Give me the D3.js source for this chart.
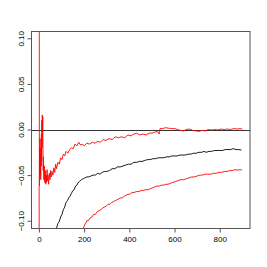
<!DOCTYPE html>
<html>
<head>
<meta charset="utf-8">
<script src="https://cdn.jsdelivr.net/npm/d3@7"></script>
<style>
    body { margin: 0; background: #fff; }
    svg { display: block; }
    text { font-family: "Liberation Sans", Arial, sans-serif; font-size: 8px; fill: #000; }
</style>
</head>
<body>
<div id="chart"></div>
<script>
// upper bound (red), running estimate (black), lower bound (red)
const upper = [[1,0.5],[2,-0.062],[3,-0.02],[4,-0.045],[5,-0.01],[6,-0.05],[7,-0.03],[8,-0.055],[9,-0.02],[10,-0.04],[11,-0.005],[12,-0.035],[13,0.01],[14,-0.02],[15,0.016],[16,0.0],[17,0.014],[18,-0.02],[19,-0.045],[20,-0.03],[22,-0.055],[24,-0.04],[26,-0.058],[28,-0.045],[30,-0.06],[32,-0.05],[34,-0.058],[36,-0.044],[38,-0.056],[40,-0.05],[43,-0.06],[46,-0.048],[49,-0.055],[52,-0.045],[55,-0.052],[58,-0.046],[62,-0.05],[66,-0.042],[70,-0.047],[74,-0.038],[78,-0.043],[84,-0.036],[90,-0.038],[96,-0.031],[102,-0.033],[108,-0.027],[114,-0.029],[120,-0.024],[128,-0.026],[136,-0.022],[144,-0.02],[152,-0.021],[160,-0.016],[168,-0.018],[176,-0.014],[184,-0.017],[192,-0.016],[200,-0.018],[212,-0.015],[224,-0.016],[236,-0.014],[248,-0.015],[260,-0.013],[272,-0.014],[284,-0.011],[296,-0.012],[310,-0.01],[324,-0.011],[338,-0.008],[352,-0.009],[366,-0.008],[380,-0.009],[394,-0.006],[408,-0.007],[420,-0.005],[432,-0.004],[446,-0.006],[460,-0.005],[474,-0.006],[488,-0.004],[500,-0.004],[512,-0.003],[524,-0.002],[532,-0.005],[536,0.001],[548,0.001],[560,0.002],[572,0.0015],[586,0.001],[600,0.001],[614,0.0],[626,-0.001],[640,-0.0015],[652,0.0],[666,0.0005],[680,-0.001],[694,-0.0015],[708,-0.002],[722,-0.001],[736,-0.0015],[750,0.0],[764,-0.0005],[778,0.0],[792,-0.0005],[806,0.0005],[820,0.0],[834,0.0005],[848,0.0],[862,0.001],[876,0.0005],[890,0.001],[900,0.0005]]

const center = [[50,-0.14],[60,-0.125],[70,-0.116],[78,-0.108],[84,-0.103],[90,-0.101],[96,-0.096],[102,-0.093],[108,-0.088],[114,-0.085],[120,-0.08],[126,-0.078],[132,-0.075],[138,-0.073],[144,-0.07],[150,-0.067],[156,-0.066],[162,-0.062],[168,-0.061],[174,-0.058],[180,-0.057],[188,-0.055],[196,-0.054],[204,-0.053],[212,-0.052],[220,-0.052],[230,-0.051],[240,-0.05],[250,-0.05],[260,-0.048],[270,-0.049],[280,-0.047],[290,-0.046],[300,-0.046],[312,-0.045],[324,-0.043],[336,-0.043],[348,-0.041],[360,-0.041],[372,-0.04],[384,-0.039],[396,-0.038],[408,-0.038],[420,-0.036],[432,-0.036],[444,-0.035],[456,-0.035],[468,-0.034],[480,-0.033],[492,-0.033],[504,-0.032],[516,-0.032],[528,-0.031],[540,-0.031],[552,-0.031],[564,-0.03],[576,-0.03],[588,-0.029],[600,-0.029],[612,-0.029],[624,-0.028],[636,-0.028],[648,-0.028],[660,-0.027],[672,-0.027],[684,-0.026],[696,-0.026],[708,-0.025],[720,-0.025],[730,-0.024],[740,-0.025],[752,-0.024],[764,-0.024],[776,-0.023],[788,-0.023],[800,-0.023],[812,-0.023],[824,-0.022],[836,-0.022],[848,-0.022],[860,-0.021],[872,-0.022],[884,-0.022],[896,-0.0225]]

const lower = [[1,-0.062],[2,-0.5],[20,-0.3],[100,-0.2],[150,-0.14],[180,-0.12],[190,-0.113],[196,-0.109],[200,-0.106],[206,-0.103],[212,-0.1],[218,-0.1],[226,-0.097],[234,-0.096],[242,-0.093],[250,-0.093],[258,-0.09],[266,-0.089],[274,-0.088],[282,-0.086],[290,-0.085],[298,-0.084],[306,-0.082],[314,-0.082],[322,-0.08],[330,-0.079],[338,-0.078],[346,-0.077],[354,-0.076],[362,-0.075],[370,-0.075],[378,-0.073],[386,-0.072],[394,-0.071],[402,-0.071],[412,-0.069],[422,-0.069],[432,-0.068],[442,-0.068],[452,-0.067],[462,-0.067],[472,-0.066],[482,-0.066],[492,-0.065],[502,-0.064],[512,-0.063],[522,-0.062],[532,-0.062],[542,-0.061],[552,-0.061],[562,-0.06],[572,-0.06],[582,-0.059],[592,-0.058],[604,-0.057],[616,-0.056],[628,-0.055],[640,-0.055],[652,-0.054],[664,-0.053],[676,-0.052],[688,-0.052],[700,-0.051],[712,-0.05],[724,-0.05],[736,-0.049],[748,-0.049],[760,-0.049],[772,-0.048],[784,-0.048],[796,-0.047],[808,-0.047],[820,-0.046],[832,-0.046],[844,-0.045],[856,-0.045],[868,-0.044],[880,-0.0445],[890,-0.044],[898,-0.0445]]

const xTicks = [0, 200, 400, 600, 800]
const yTicks = [-0.10, -0.05, 0.00, 0.05, 0.10]


let width = 267,
    height = 267,
    plotLeft = 31, plotRight = 250.5, plotTop = 31, plotBottom = 228

let svg = d3.select("#chart")
    .append("svg")
    .attr("width", width)
    .attr("height", height)

let x = d3.scaleLinear().domain([-35, 936]).range([plotLeft, plotRight]),
    y = d3.scaleLinear().domain([-0.108, 0.108]).range([plotBottom, plotTop])

svg.append("clipPath")
    .attr("id", "plot-clip")
    .append("rect")
    .attr("x", plotLeft)
    .attr("y", plotTop)
    .attr("width", plotRight - plotLeft)
    .attr("height", plotBottom - plotTop)

let line = d3.line()
    .x(d => x(d[0]))
    .y(d => y(d[1]))

let plot = svg.append("g").attr("clip-path", "url(#plot-clip)")

// zero reference line
plot.append("line")
    .attr("x1", plotLeft)
    .attr("x2", plotRight)
    .attr("y1", Math.round(y(0)) + 0.5)
    .attr("y2", Math.round(y(0)) + 0.5)
    .attr("stroke", "#333")
    .attr("stroke-width", 1)

let series = [
    {data: upper, color: "#ff0000"},
    {data: center, color: "#000000"},
    {data: lower, color: "#ff0000"}
]

series.forEach(function(s) {
    plot.append("path")
        .datum(s.data)
        .attr("fill", "none")
        .attr("stroke", s.color)
        .attr("stroke-width", 0.9)
        .attr("d", line)
})

// box
svg.append("rect")
    .attr("x", plotLeft + 0.5)
    .attr("y", plotTop + 0.5)
    .attr("width", plotRight - plotLeft - 1)
    .attr("height", plotBottom - plotTop)
    .attr("fill", "none")
    .attr("stroke", "#555")

// x axis
let xAxis = d3.axisBottom(x)
    .tickValues(xTicks)
    .tickSize(4)
    .tickPadding(4)
    .tickFormat(d3.format("d"))

let gx = svg.append("g")
    .attr("transform", `translate(0,${plotBottom + 0.5})`)
    .call(xAxis)

gx.select(".domain").attr("d", `M${x(0)},0H${x(800)}`).attr("stroke", "#555")
gx.selectAll(".tick line").attr("stroke", "#555")
gx.selectAll("text").style("font-size", "8px").attr("fill", "#000")

// y axis
let yAxis = d3.axisLeft(y)
    .tickValues(yTicks)
    .tickSize(4)
    .tickFormat(d3.format(".2f"))

let gy = svg.append("g")
    .attr("transform", `translate(${plotLeft + 0.5},0)`)
    .call(yAxis)

gy.select(".domain").attr("d", `M0,${y(-0.1)}V${y(0.1)}`).attr("stroke", "#555")
gy.selectAll(".tick line").attr("stroke", "#555")
gy.selectAll("text")
    .style("font-size", "8px")
    .attr("fill", "#000")
    .attr("text-anchor", "middle")
    .attr("x", 0)
    .attr("dy", 0)
    .attr("transform", "translate(-8,0) rotate(-90)")
</script>
</body>
</html>
